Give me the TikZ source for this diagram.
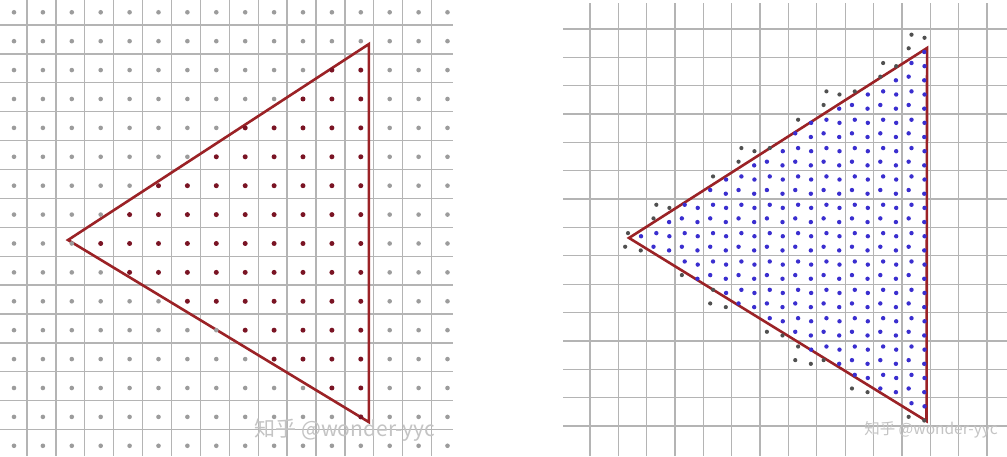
\documentclass[tikz,border=0pt]{standalone}
\usepackage{fontspec}
\newfontfamily\cjkfont{Noto Sans CJK SC}
\definecolor{gridc}{HTML}{B4B4B4}
\definecolor{tric}{HTML}{9B2226}
\definecolor{dotin}{HTML}{7A1424}
\definecolor{dotout}{HTML}{9C9C9C}
\definecolor{sampin}{HTML}{3A2ECF}
\definecolor{sampout}{HTML}{505050}
\definecolor{wmark}{HTML}{C4C4C4}
\tikzset{
  gridline/.style={draw=gridc, line width=1.3pt},
  triline/.style={draw=tric, line width=2.6pt, line join=miter},
  wmbig/.style={text=wmark, inner sep=0pt, font=\cjkfont\fontsize{21}{21}\selectfont},
  wmsmall/.style={text=wmark, inner sep=0pt, font=\cjkfont\fontsize{15.5}{15.5}\selectfont},
}
% cross product (B-A) x (P-A)
\newcommand\tedge[6]{((#3)-(#1))*((#6)-(#2))-((#4)-(#2))*((#5)-(#1))}
\newcommand\tinside[3]{\pgfmathtruncatemacro#1{and(and(\tedge{\TAx}{\TAy}{\TBx}{\TBy}{#2}{#3}>0,\tedge{\TBx}{\TBy}{\TCx}{\TCy}{#2}{#3}>0),\tedge{\TCx}{\TCy}{\TAx}{\TAy}{#2}{#3}>0)}}
% right panel: grid origin (590,29), pitch 28.35
\newcommand\sampdot[3]{\ifnum#1=1 \fill[sampin] ({590+28.35*#2},{29+28.35*#3}) circle[radius=2.2pt];\else\fill[sampout] ({590+28.35*#2},{29+28.35*#3}) circle[radius=2.1pt];\fi}
\begin{document}
\begin{tikzpicture}[x=1pt,y=-1pt]
\useasboundingbox (0,0) rectangle (1007,456);
\fill[white] (0,0) rectangle (1007,456);
% ---------------- left panel: one sample per pixel (origin (27,25), pitch 28.9)
\foreach \k in {0,...,14}{
  \draw[gridline] ({27+28.9*\k},0) -- ({27+28.9*\k},456);
  \draw[gridline] (0,{25+28.9*\k}) -- (453,{25+28.9*\k});
}
\def\TAx{1.42}\def\TAy{7.44}\def\TBx{11.83}\def\TBy{0.66}\def\TCx{11.83}\def\TCy{13.74}
\coordinate (LA) at ({27+28.9*\TAx},{25+28.9*\TAy});
\coordinate (LB) at ({27+28.9*\TBx},{25+28.9*\TBy});
\coordinate (LC) at ({27+28.9*\TCx},{25+28.9*\TCy});
\draw[triline] (LA) -- (LB) -- (LC) -- cycle;
\foreach \i in {-1,...,14}{
  \foreach \j in {-1,...,14}{
    \pgfmathsetmacro\px{\i+0.55}
    \pgfmathsetmacro\py{\j+0.56}
    \tinside\flagP\px\py
    \ifnum\flagP=1 \fill[dotin] ({27+28.9*\px},{25+28.9*\py}) circle[radius=2.5pt];
    \else \fill[dotout] ({27+28.9*\px},{25+28.9*\py}) circle[radius=2.3pt];\fi
  }}
% ---------------- right panel: four samples per pixel
\foreach \k in {0,...,14}{
  \draw[gridline] ({590+28.35*\k},3) -- ({590+28.35*\k},456);
  \draw[gridline] (563,{29+28.35*\k}) -- (1007,{29+28.35*\k});
}
\def\TAx{1.376}\def\TAy{7.37}\def\TBx{11.89}\def\TBy{0.67}\def\TCx{11.87}\def\TCy{13.83}
\coordinate (RA) at ({590+28.35*\TAx},{29+28.35*\TAy});
\coordinate (RB) at ({590+28.35*\TBx},{29+28.35*\TBy});
\coordinate (RC) at ({590+28.35*\TCx},{29+28.35*\TCy});
\draw[triline] (RA) -- (RB) -- (RC) -- cycle;
\foreach \i in {0,...,13}{
  \foreach \j in {-1,...,14}{
    \pgfmathsetmacro\xsA{\i+0.34}\pgfmathsetmacro\ysA{\j+0.2}
    \pgfmathsetmacro\xsB{\i+0.8}\pgfmathsetmacro\ysB{\j+0.31}
    \pgfmathsetmacro\xsC{\i+0.24}\pgfmathsetmacro\ysC{\j+0.68}
    \pgfmathsetmacro\xsD{\i+0.79}\pgfmathsetmacro\ysD{\j+0.81}
    \tinside\flagA\xsA\ysA
    \tinside\flagB\xsB\ysB
    \tinside\flagC\xsC\ysC
    \tinside\flagD\xsD\ysD
    \pgfmathtruncatemacro\anyin{\flagA+\flagB+\flagC+\flagD}
    \ifnum\anyin>0
      \sampdot\flagA\xsA\ysA
      \sampdot\flagB\xsB\ysB
      \sampdot\flagC\xsC\ysC
      \sampdot\flagD\xsD\ysD
    \fi
  }}
% ---------------- watermarks
\node[wmbig] (wmL) at (345,430) {知乎 @wonder-yyc};
\node[wmsmall] (wmR) at (931,430) {知乎 @wonder-yyc};
\end{tikzpicture}
\end{document}
